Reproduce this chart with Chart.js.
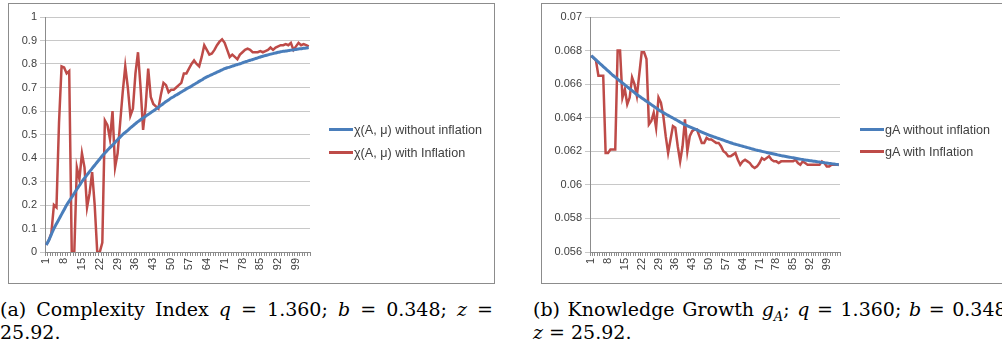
<!DOCTYPE html>
<html>
<head>
<meta charset="utf-8">
<script src="https://cdn.jsdelivr.net/npm/chart.js@4.4.1/dist/chart.umd.min.js"></script>
<style>
  html, body { margin: 0; padding: 0; background: #fff; width: 1002px; height: 345px; overflow: hidden; position: relative; }
  .box { position: absolute; top: 3px; height: 279px; border: 1px solid #8c8c8c; background: #fff; }
  .box .wrap { position: absolute; left: 0; top: 0; height: 279px; }
  .leg { position: absolute; font: 12.6px "Liberation Sans", Arial, sans-serif; color: #404040; white-space: nowrap; }
  .leg span.ln { display: inline-block; width: 24px; height: 3px; vertical-align: middle; margin-right: 1px; position: relative; top: -1px; }
  .cap { position: absolute; font: 19px "DejaVu Serif", serif; line-height: 23px; color: #000; white-space: nowrap; }
  .cap.l1 { top: 298px; text-align: justify; text-align-last: justify; }
  .cap.l2 { top: 321px; text-align: left; }
</style>
</head>
<body>

<div class="box" id="boxA" style="left:8px;width:485px;">
  <div class="wrap" style="width:485px;"><canvas id="chartA"></canvas></div>
</div>
<div class="box" id="boxB" style="left:541px;width:478px;">
  <div class="wrap" style="width:478px;"><canvas id="chartB"></canvas></div>
</div>

<div class="leg" style="left:329px;top:123px;"><span class="ln" style="background:#4A7EBB"></span>χ(A, μ) without inflation</div>
<div class="leg" style="left:329px;top:146px;"><span class="ln" style="background:#BE4B48"></span>χ(A, μ) with Inflation</div>
<div class="leg" style="left:860px;top:123px;"><span class="ln" style="background:#4A7EBB"></span>gA without inflation</div>
<div class="leg" style="left:860px;top:145px;"><span class="ln" style="background:#BE4B48"></span>gA with Inflation</div>

<div class="cap l1" style="left:0px;width:493px;">(a) Complexity Index <i>q</i> = 1.360; <i>b</i> = 0.348; <i>z</i> =</div>
<div class="cap l2" style="left:0px;">25.92.</div>
<div class="cap l1" style="left:533px;width:480px;">(b) Knowledge Growth <i>g<sub style="font-size:13px">A</sub></i>; <i>q</i> = 1.360; <i>b</i> = 0.348;</div>
<div class="cap l2" style="left:533px;"><i>z</i> = 25.92.</div>

<script>
// Categories 1..104 (period)
const periods = [];
for (let i = 1; i <= 104; i++) periods.push(String(i));
const shownTicks = ['1', '8', '15', '22', '29', '36', '43', '50', '57', '64', '71', '78', '85', '92', '99'];

// (a) Complexity index
const chiNoInflation = [
  0.03, 0.05, 0.075, 0.10, 0.12, 0.14, 0.16, 0.18, 0.20,
  0.217, 0.233, 0.25, 0.267, 0.283, 0.30,
  0.314, 0.328, 0.342, 0.356, 0.369, 0.383, 0.396, 0.41,
  0.421, 0.433, 0.444, 0.455, 0.466, 0.478, 0.489, 0.50,
  0.509, 0.518, 0.528, 0.537, 0.546, 0.555,
  0.563, 0.570, 0.578, 0.585, 0.593, 0.60,
  0.608, 0.616, 0.624, 0.632, 0.640, 0.647, 0.655,
  0.661, 0.668, 0.674, 0.681, 0.687, 0.694, 0.70,
  0.706, 0.713, 0.719, 0.726, 0.732, 0.739, 0.745,
  0.750, 0.755, 0.760, 0.765, 0.770, 0.775, 0.78,
  0.784, 0.787, 0.791, 0.794, 0.798, 0.801, 0.805,
  0.809, 0.812, 0.816, 0.819, 0.823, 0.826, 0.83,
  0.833, 0.836, 0.839, 0.842, 0.844, 0.847, 0.85,
  0.852, 0.854, 0.855, 0.857, 0.859, 0.860, 0.862,
  0.864, 0.865, 0.867, 0.868, 0.87
];
const chiInflation = [
  0.03, 0.05, 0.08, 0.20, 0.19, 0.55, 0.79, 0.785, 0.76, 0.77,
  0.0, 0.0, 0.36, 0.31, 0.42, 0.36, 0.19, 0.25, 0.34, 0.20,
  0.0, 0.0, 0.04, 0.56, 0.54, 0.48, 0.60, 0.36, 0.42, 0.55,
  0.68, 0.79, 0.70, 0.58, 0.61, 0.76, 0.85, 0.70, 0.52, 0.62,
  0.78, 0.66, 0.63, 0.62, 0.61, 0.67, 0.72, 0.71, 0.68, 0.69,
  0.69, 0.70, 0.71, 0.72, 0.76, 0.76, 0.78, 0.80, 0.815, 0.80,
  0.79, 0.83, 0.88, 0.86, 0.84, 0.845, 0.86, 0.88, 0.895, 0.905,
  0.89, 0.86, 0.83, 0.84, 0.83, 0.82, 0.84, 0.85, 0.86, 0.865,
  0.86, 0.85, 0.85, 0.85, 0.855, 0.85, 0.855, 0.86, 0.87, 0.86,
  0.87, 0.875, 0.88, 0.88, 0.885, 0.88, 0.89, 0.86, 0.875, 0.89,
  0.88, 0.885, 0.88, 0.875
];

// (b) Knowledge growth gA
const gNoInflation = [
  0.06770, 0.06757, 0.06744, 0.06731, 0.06718, 0.06705, 0.06692, 0.06679, 0.06666, 0.06653,
  0.066415, 0.06630, 0.066185, 0.06607, 0.065955, 0.06584, 0.065725, 0.06561, 0.065495, 0.06538,
  0.06528, 0.06518, 0.06508, 0.06498, 0.06488, 0.06478, 0.06468, 0.06458, 0.06448, 0.06438,
  0.06430, 0.06422, 0.06414, 0.06406, 0.06398, 0.06390, 0.06382, 0.06374, 0.06366, 0.06358,
  0.063518, 0.063456, 0.063394, 0.063332, 0.06327, 0.063208, 0.063146, 0.063084, 0.063022, 0.06296,
  0.06291, 0.06286, 0.06281, 0.06276, 0.06271, 0.06266, 0.06261, 0.06256, 0.06251, 0.06246,
  0.06242, 0.06238, 0.06234, 0.06230, 0.06226, 0.06222, 0.06218, 0.06214, 0.06210, 0.06206,
  0.062028, 0.061996, 0.061964, 0.061932, 0.06190, 0.061868, 0.061836, 0.061804, 0.061772, 0.06174,
  0.061714, 0.061688, 0.061662, 0.061636, 0.06161, 0.061584, 0.061558, 0.061532, 0.061506, 0.06148,
  0.06146, 0.06144, 0.06142, 0.06140, 0.06138, 0.06136, 0.06134, 0.06132, 0.06130, 0.06128,
  0.06126, 0.06124, 0.06122, 0.06120
];
const gInflation = [
  0.06768, 0.06758, 0.06739, 0.0665, 0.0665, 0.0665, 0.0619, 0.0619, 0.0621, 0.0621,
  0.0621, 0.0680, 0.0680, 0.0652, 0.0657, 0.0648, 0.0652, 0.0664, 0.0660, 0.0653,
  0.0666, 0.0679, 0.0679, 0.0675, 0.0636, 0.0638, 0.0643, 0.0634, 0.0652, 0.0649,
  0.0641, 0.0629, 0.0619, 0.0627, 0.0635, 0.0634, 0.0623, 0.0614, 0.0623, 0.0639,
  0.0620, 0.0629, 0.0632, 0.0633, 0.0633, 0.0629, 0.0625, 0.0625, 0.0628, 0.0627,
  0.0627, 0.0626, 0.0625, 0.0625, 0.0623, 0.0620, 0.0619, 0.0617, 0.0617, 0.0618,
  0.0619, 0.0615, 0.0612, 0.0614, 0.0615, 0.0614, 0.0613, 0.0611, 0.0610, 0.0611,
  0.0613, 0.0616, 0.0615, 0.0616, 0.0617, 0.0615, 0.0614, 0.0614, 0.0613, 0.0614,
  0.0614, 0.0614, 0.0614, 0.0614, 0.0614, 0.0615, 0.0613, 0.0612, 0.0614, 0.0613,
  0.0612, 0.0612, 0.0612, 0.0612, 0.0612, 0.0612, 0.0614, 0.0613, 0.0611, 0.0611,
  0.0612, 0.0612, 0.0612, 0.0612
];

const BLUE = '#4A7EBB';
const RED = '#BE4B48';
const tickFont = { family: '"Liberation Sans", Arial, sans-serif', size: 11 };

function makeChart(id, blue, red, yMin, yMax, yStep, yWidth, padRight) {
  return new Chart(document.getElementById(id), {
    type: 'line',
    data: {
      labels: periods,
      datasets: [
        { data: blue, borderColor: BLUE, borderWidth: 3, pointRadius: 0, tension: 0.3, fill: false },
        { data: red, borderColor: RED, borderWidth: 2.5, pointRadius: 0, tension: 0, fill: false }
      ]
    },
    options: {
      responsive: true,
      maintainAspectRatio: false,
      animation: false,
      events: [],
      layout: { padding: { left: 0, top: 13, right: padRight, bottom: 0 } },
      plugins: { legend: { display: false }, tooltip: { enabled: false } },
      scales: {
        x: {
          offset: true,
          grid: { offset: true, drawOnChartArea: false, drawTicks: true, tickLength: 4, color: '#8c8c8c' },
          border: { color: '#8c8c8c' },
          ticks: {
            autoSkip: false, maxRotation: 90, minRotation: 90, padding: 2,
            color: '#404040', font: tickFont,
            callback: function (val) {
              const lab = this.getLabelForValue(val);
              return shownTicks.includes(lab) ? lab : '';
            }
          },
          afterFit: s => { s.height = 31; }
        },
        y: {
          min: yMin, max: yMax,
          grid: { color: '#c8c8c8', drawTicks: true, tickLength: 5 },
          border: { color: '#8c8c8c' },
          ticks: {
            stepSize: yStep, padding: 3, color: '#404040', font: tickFont,
            callback: v => String(parseFloat(v.toFixed(4)))
          },
          afterFit: s => { s.width = yWidth; }
        }
      }
    }
  });
}

makeChart('chartA', chiNoInflation, chiInflation, 0, 1, 0.1, 36, 184);
makeChart('chartB', gNoInflation, gInflation, 0.056, 0.07, 0.002, 48, 180);
</script>
</body>
</html>
